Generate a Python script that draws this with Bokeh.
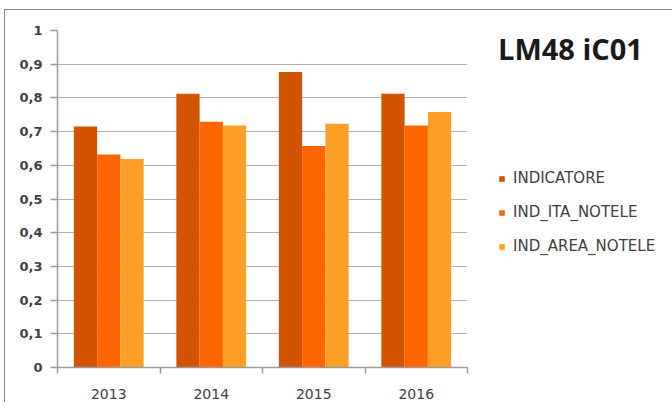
from bokeh.plotting import figure
from bokeh.models import (ColumnDataSource, Range1d, FixedTicker, CustomJSTickFormatter,
                          Legend, LegendItem)
from bokeh.transform import dodge
from bokeh.embed import file_html
from bokeh.resources import INLINE

years = ["2013", "2014", "2015", "2016"]
indicatore = [0.715, 0.812, 0.877, 0.812]
ind_ita_notele = [0.632, 0.729, 0.657, 0.718]
ind_area_notele = [0.619, 0.718, 0.723, 0.758]
series_names = ["INDICATORE", "IND_ITA_NOTELE", "IND_AREA_NOTELE"]
colors = ["#D35400", "#FF6600", "#FF9F28"]
y_ticks = [0, 0.1, 0.2, 0.3, 0.4, 0.5, 0.6, 0.7, 0.8, 0.9, 1]
chart_title = "LM48 iC01"

pos = [i + 0.5 for i in range(len(years))]
source = ColumnDataSource(dict(x=pos, a=indicatore, b=ind_ita_notele, c=ind_area_notele))

p = figure(frame_width=410, frame_height=337, output_backend="svg", toolbar_location=None,
           x_range=Range1d(0, len(years)), y_range=Range1d(0, 1),
           min_border_left=57, min_border_right=0, min_border_top=30, min_border_bottom=35,
           background_fill_color="white", border_fill_color="white", border_fill_alpha=0)
p.outline_line_color = None
p.styles = {"box-shadow": "inset 4px 9px 0 0 white, inset 5px 10px 0 0 #8a8a8a",
            "background-color": "white"}

bw = 0.227
renderers = []
for off, col, c in zip([-bw, 0, bw], ["a", "b", "c"], colors):
    r = p.vbar(x=dodge("x", off, range=p.x_range), top=col, width=bw, source=source,
               fill_color=c, line_color=None)
    renderers.append(r)

# x axis
xa = p.xaxis[0]
xa.ticker = FixedTicker(ticks=pos, minor_ticks=list(range(len(years) + 1)))
xa.major_label_overrides = {pv: y for pv, y in zip(pos, years)}
xa.major_tick_out = 0
xa.major_tick_in = 0
xa.minor_tick_out = 6
xa.minor_tick_in = 0
xa.minor_tick_line_color = "#9a9a9a"
xa.minor_tick_line_width = 1.5
xa.axis_line_color = "#9a9a9a"
xa.axis_line_width = 1.5
xa.major_label_standoff = 15
xa.major_label_text_font = "DejaVu Sans"
xa.major_label_text_font_size = "14px"
xa.major_label_text_color = "#404040"

# y axis
ya = p.yaxis[0]
ya.ticker = FixedTicker(ticks=y_ticks, minor_ticks=[])
ya.formatter = CustomJSTickFormatter(code="""
const s = (Math.round(tick * 10) / 10).toString();
return s.replace('.', ',');
""")
ya.major_tick_out = 7
ya.major_tick_in = 0
ya.major_tick_line_color = "#9a9a9a"
ya.major_tick_line_width = 1.5
ya.axis_line_color = "#9a9a9a"
ya.axis_line_width = 1.5
ya.major_label_standoff = 8
ya.major_label_text_font = "DejaVu Sans"
ya.major_label_text_font_size = "13px"
ya.major_label_text_font_style = "bold"
ya.major_label_text_color = "#404040"

p.xgrid.grid_line_color = None
p.ygrid.grid_line_color = "#b0b0b0"
p.ygrid.grid_line_width = 1.2

legend = Legend(items=[LegendItem(label=n, renderers=[r]) for n, r in zip(series_names, renderers)],
                location=(31, 111), orientation="vertical",
                glyph_width=7, glyph_height=7, label_height=20, spacing=14,
                label_standoff=8, padding=0, margin=0,
                border_line_color=None, background_fill_alpha=0,
                label_text_font="DejaVu Sans", label_text_font_size="15px",
                label_text_color="#404040",
                title=chart_title, title_text_font="Open Sans", title_text_font_style="bold",
                title_text_font_size="29px", title_text_color="#1a1a1a", title_standoff=100)
p.add_layout(legend, "right")

open("out.html", "w").write(file_html(p, INLINE))
